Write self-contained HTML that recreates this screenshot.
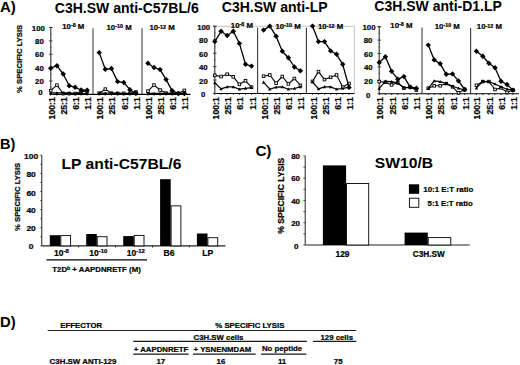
<!DOCTYPE html>
<html><head><meta charset="utf-8"><style>
html,body{margin:0;padding:0;background:#fff;}
body{width:520px;height:365px;overflow:hidden;}
svg{display:block;font-family:"Liberation Sans", sans-serif;}
text{stroke:#000;stroke-width:0.22px;paint-order:stroke;}
text.big{stroke-width:0;stroke:none;}
</style></head><body>
<svg width="520" height="365" viewBox="0 0 520 365" font-family='"Liberation Sans", sans-serif'>
<rect width="520" height="365" fill="#fff"/>
<line x1="93.00" y1="28.30" x2="93.00" y2="94.40" stroke="#858585" stroke-width="1.7"/>
<line x1="142.00" y1="28.30" x2="142.00" y2="94.40" stroke="#858585" stroke-width="1.7"/>
<line x1="50.80" y1="94.40" x2="190.50" y2="94.40" stroke="#000" stroke-width="1.1"/>
<line x1="50.80" y1="27.50" x2="50.80" y2="94.40" stroke="#333" stroke-width="1.1"/>
<line x1="49.30" y1="27.50" x2="52.30" y2="27.50" stroke="#333" stroke-width="1.0"/>
<line x1="49.00" y1="94.40" x2="52.60" y2="94.40" stroke="#333" stroke-width="0.9"/>
<line x1="49.90" y1="87.71" x2="51.70" y2="87.71" stroke="#555" stroke-width="0.8"/>
<line x1="49.00" y1="81.02" x2="52.60" y2="81.02" stroke="#333" stroke-width="0.9"/>
<line x1="49.90" y1="74.33" x2="51.70" y2="74.33" stroke="#555" stroke-width="0.8"/>
<line x1="49.00" y1="67.64" x2="52.60" y2="67.64" stroke="#333" stroke-width="0.9"/>
<line x1="49.90" y1="60.95" x2="51.70" y2="60.95" stroke="#555" stroke-width="0.8"/>
<line x1="49.00" y1="54.26" x2="52.60" y2="54.26" stroke="#333" stroke-width="0.9"/>
<line x1="49.90" y1="47.57" x2="51.70" y2="47.57" stroke="#555" stroke-width="0.8"/>
<line x1="49.00" y1="40.88" x2="52.60" y2="40.88" stroke="#333" stroke-width="0.9"/>
<line x1="49.90" y1="34.19" x2="51.70" y2="34.19" stroke="#555" stroke-width="0.8"/>
<line x1="49.00" y1="27.50" x2="52.60" y2="27.50" stroke="#333" stroke-width="0.9"/>
<text x="38.35" y="30.90" font-size="7.8" text-anchor="middle" font-weight="bold" >100</text>
<text x="39.40" y="43.90" font-size="7.8" text-anchor="middle" font-weight="bold" >80</text>
<text x="39.40" y="57.25" font-size="7.8" text-anchor="middle" font-weight="bold" >60</text>
<text x="39.40" y="70.75" font-size="7.8" text-anchor="middle" font-weight="bold" >40</text>
<text x="39.40" y="83.60" font-size="7.8" text-anchor="middle" font-weight="bold" >20</text>
<text x="40.50" y="95.10" font-size="7.8" text-anchor="middle" font-weight="bold" >0</text>
<text x="62.20" y="28.60" font-size="7.8" font-weight="bold">10<tspan font-size="5.4" dy="-1.8">-8</tspan><tspan dy="1.8"> M</tspan></text>
<text x="106.50" y="29.50" font-size="7.8" font-weight="bold">10<tspan font-size="5.4" dy="-1.8">-10</tspan><tspan dy="1.8"> M</tspan></text>
<text x="149.50" y="30.30" font-size="7.8" font-weight="bold">10<tspan font-size="5.4" dy="-1.8">-12</tspan><tspan dy="1.8"> M</tspan></text>
<line x1="214.80" y1="26.30" x2="354.40" y2="26.30" stroke="#c4c4c4" stroke-width="1"/>
<line x1="354.40" y1="26.30" x2="354.40" y2="93.50" stroke="#c4c4c4" stroke-width="1"/>
<line x1="257.60" y1="27.70" x2="257.60" y2="93.50" stroke="#3a3a3a" stroke-width="1.1"/>
<line x1="306.40" y1="27.70" x2="306.40" y2="93.50" stroke="#3a3a3a" stroke-width="1.1"/>
<line x1="214.80" y1="93.50" x2="354.40" y2="93.50" stroke="#000" stroke-width="1.1"/>
<line x1="214.80" y1="26.30" x2="214.80" y2="93.50" stroke="#333" stroke-width="1.1"/>
<line x1="213.30" y1="26.30" x2="216.30" y2="26.30" stroke="#333" stroke-width="1.0"/>
<line x1="213.00" y1="93.50" x2="216.60" y2="93.50" stroke="#333" stroke-width="0.9"/>
<line x1="213.90" y1="86.78" x2="215.70" y2="86.78" stroke="#555" stroke-width="0.8"/>
<line x1="213.00" y1="80.06" x2="216.60" y2="80.06" stroke="#333" stroke-width="0.9"/>
<line x1="213.90" y1="73.34" x2="215.70" y2="73.34" stroke="#555" stroke-width="0.8"/>
<line x1="213.00" y1="66.62" x2="216.60" y2="66.62" stroke="#333" stroke-width="0.9"/>
<line x1="213.90" y1="59.90" x2="215.70" y2="59.90" stroke="#555" stroke-width="0.8"/>
<line x1="213.00" y1="53.18" x2="216.60" y2="53.18" stroke="#333" stroke-width="0.9"/>
<line x1="213.90" y1="46.46" x2="215.70" y2="46.46" stroke="#555" stroke-width="0.8"/>
<line x1="213.00" y1="39.74" x2="216.60" y2="39.74" stroke="#333" stroke-width="0.9"/>
<line x1="213.90" y1="33.02" x2="215.70" y2="33.02" stroke="#555" stroke-width="0.8"/>
<line x1="213.00" y1="26.30" x2="216.60" y2="26.30" stroke="#333" stroke-width="0.9"/>
<text x="203.65" y="29.85" font-size="7.8" text-anchor="middle" font-weight="bold" >100</text>
<text x="203.40" y="43.20" font-size="7.8" text-anchor="middle" font-weight="bold" >80</text>
<text x="203.45" y="56.90" font-size="7.8" text-anchor="middle" font-weight="bold" >60</text>
<text x="203.35" y="70.15" font-size="7.8" text-anchor="middle" font-weight="bold" >40</text>
<text x="203.45" y="83.95" font-size="7.8" text-anchor="middle" font-weight="bold" >20</text>
<text x="203.15" y="97.45" font-size="7.8" text-anchor="middle" font-weight="bold" >0</text>
<text x="230.80" y="27.70" font-size="7.8" font-weight="bold">10<tspan font-size="5.4" dy="-1.8">-8</tspan><tspan dy="1.8"> M</tspan></text>
<text x="275.50" y="28.50" font-size="7.8" font-weight="bold">10<tspan font-size="5.4" dy="-1.8">-10</tspan><tspan dy="1.8"> M</tspan></text>
<text x="318.00" y="29.40" font-size="7.8" font-weight="bold">10<tspan font-size="5.4" dy="-1.8">-12</tspan><tspan dy="1.8"> M</tspan></text>
<line x1="422.00" y1="27.50" x2="422.00" y2="93.70" stroke="#858585" stroke-width="1.7"/>
<line x1="470.60" y1="28.10" x2="470.60" y2="93.70" stroke="#3a3a3a" stroke-width="1.1"/>
<line x1="379.20" y1="93.70" x2="519.00" y2="93.70" stroke="#000" stroke-width="1.1"/>
<line x1="379.20" y1="26.70" x2="379.20" y2="93.70" stroke="#333" stroke-width="1.1"/>
<line x1="377.70" y1="26.70" x2="380.70" y2="26.70" stroke="#333" stroke-width="1.0"/>
<line x1="377.40" y1="93.70" x2="381.00" y2="93.70" stroke="#333" stroke-width="0.9"/>
<line x1="378.30" y1="87.00" x2="380.10" y2="87.00" stroke="#555" stroke-width="0.8"/>
<line x1="377.40" y1="80.30" x2="381.00" y2="80.30" stroke="#333" stroke-width="0.9"/>
<line x1="378.30" y1="73.60" x2="380.10" y2="73.60" stroke="#555" stroke-width="0.8"/>
<line x1="377.40" y1="66.90" x2="381.00" y2="66.90" stroke="#333" stroke-width="0.9"/>
<line x1="378.30" y1="60.20" x2="380.10" y2="60.20" stroke="#555" stroke-width="0.8"/>
<line x1="377.40" y1="53.50" x2="381.00" y2="53.50" stroke="#333" stroke-width="0.9"/>
<line x1="378.30" y1="46.80" x2="380.10" y2="46.80" stroke="#555" stroke-width="0.8"/>
<line x1="377.40" y1="40.10" x2="381.00" y2="40.10" stroke="#333" stroke-width="0.9"/>
<line x1="378.30" y1="33.40" x2="380.10" y2="33.40" stroke="#555" stroke-width="0.8"/>
<line x1="377.40" y1="26.70" x2="381.00" y2="26.70" stroke="#333" stroke-width="0.9"/>
<text x="369.00" y="29.95" font-size="7.8" text-anchor="middle" font-weight="bold" >100</text>
<text x="368.10" y="42.65" font-size="7.8" text-anchor="middle" font-weight="bold" >80</text>
<text x="368.40" y="56.90" font-size="7.8" text-anchor="middle" font-weight="bold" >60</text>
<text x="368.30" y="70.15" font-size="7.8" text-anchor="middle" font-weight="bold" >40</text>
<text x="368.40" y="84.15" font-size="7.8" text-anchor="middle" font-weight="bold" >20</text>
<text x="368.20" y="97.55" font-size="7.8" text-anchor="middle" font-weight="bold" >0</text>
<text x="390.30" y="27.80" font-size="7.8" font-weight="bold">10<tspan font-size="5.4" dy="-1.8">-8</tspan><tspan dy="1.8"> M</tspan></text>
<text x="434.70" y="28.50" font-size="7.8" font-weight="bold">10<tspan font-size="5.4" dy="-1.8">-10</tspan><tspan dy="1.8"> M</tspan></text>
<text x="476.80" y="29.40" font-size="7.8" font-weight="bold">10<tspan font-size="5.4" dy="-1.8">-12</tspan><tspan dy="1.8"> M</tspan></text>
<line x1="50.70" y1="94.40" x2="50.70" y2="95.70" stroke="#000" stroke-width="0.8"/>
<line x1="56.90" y1="94.40" x2="56.90" y2="95.70" stroke="#000" stroke-width="0.8"/>
<line x1="63.20" y1="94.40" x2="63.20" y2="95.70" stroke="#000" stroke-width="0.8"/>
<line x1="69.20" y1="94.40" x2="69.20" y2="95.70" stroke="#000" stroke-width="0.8"/>
<line x1="75.10" y1="94.40" x2="75.10" y2="95.70" stroke="#000" stroke-width="0.8"/>
<line x1="81.20" y1="94.40" x2="81.20" y2="95.70" stroke="#000" stroke-width="0.8"/>
<line x1="87.20" y1="94.40" x2="87.20" y2="95.70" stroke="#000" stroke-width="0.8"/>
<polyline points="50.70,90.70 56.90,85.20 63.20,93.50 69.20,93.50 75.10,93.50 81.20,91.50 87.20,91.50" fill="none" stroke="#000" stroke-width="1.1" stroke-linejoin="round"/>
<rect x="49.40" y="89.40" width="2.60" height="2.60" fill="#fff" stroke="#000" stroke-width="0.9"/>
<rect x="55.60" y="83.90" width="2.60" height="2.60" fill="#fff" stroke="#000" stroke-width="0.9"/>
<rect x="61.90" y="92.20" width="2.60" height="2.60" fill="#fff" stroke="#000" stroke-width="0.9"/>
<rect x="67.90" y="92.20" width="2.60" height="2.60" fill="#fff" stroke="#000" stroke-width="0.9"/>
<rect x="73.80" y="92.20" width="2.60" height="2.60" fill="#fff" stroke="#000" stroke-width="0.9"/>
<rect x="79.90" y="90.20" width="2.60" height="2.60" fill="#fff" stroke="#000" stroke-width="0.9"/>
<rect x="85.90" y="90.20" width="2.60" height="2.60" fill="#fff" stroke="#000" stroke-width="0.9"/>
<polyline points="50.70,92.90 56.90,92.90 63.20,92.90 69.20,92.90 75.10,93.60 81.20,93.60 87.20,93.60" fill="none" stroke="#000" stroke-width="1.2" stroke-linejoin="round"/>
<path d="M50.70 91.20L52.40 94.26L49.00 94.26Z" fill="#000"/>
<path d="M56.90 91.20L58.60 94.26L55.20 94.26Z" fill="#000"/>
<path d="M63.20 91.20L64.90 94.26L61.50 94.26Z" fill="#000"/>
<path d="M69.20 91.20L70.90 94.26L67.50 94.26Z" fill="#000"/>
<path d="M75.10 91.90L76.80 94.96L73.40 94.96Z" fill="#000"/>
<path d="M81.20 91.90L82.90 94.96L79.50 94.96Z" fill="#000"/>
<path d="M87.20 91.90L88.90 94.96L85.50 94.96Z" fill="#000"/>
<polyline points="50.70,68.20 56.90,65.70 63.20,74.00 69.20,85.70 75.10,87.30 81.20,90.00 87.20,90.30" fill="none" stroke="#000" stroke-width="1.3" stroke-linejoin="round"/>
<path d="M50.70 65.50L53.40 68.20L50.70 70.90L48.00 68.20Z" fill="#000"/>
<path d="M56.90 63.00L59.60 65.70L56.90 68.40L54.20 65.70Z" fill="#000"/>
<path d="M63.20 71.30L65.90 74.00L63.20 76.70L60.50 74.00Z" fill="#000"/>
<path d="M69.20 83.00L71.90 85.70L69.20 88.40L66.50 85.70Z" fill="#000"/>
<path d="M75.10 84.60L77.80 87.30L75.10 90.00L72.40 87.30Z" fill="#000"/>
<path d="M81.20 87.30L83.90 90.00L81.20 92.70L78.50 90.00Z" fill="#000"/>
<path d="M87.20 87.60L89.90 90.30L87.20 93.00L84.50 90.30Z" fill="#000"/>
<text transform="translate(54.70,97.10) rotate(-90)" font-size="8.75" text-anchor="end" font-weight="bold">100:1</text>
<text transform="translate(67.20,97.10) rotate(-90)" font-size="8.75" text-anchor="end" font-weight="bold">25:1</text>
<text transform="translate(79.10,97.10) rotate(-90)" font-size="8.75" text-anchor="end" font-weight="bold">6:1</text>
<text transform="translate(91.20,97.10) rotate(-90)" font-size="8.75" text-anchor="end" font-weight="bold">1:1</text>
<line x1="99.20" y1="94.40" x2="99.20" y2="95.70" stroke="#000" stroke-width="0.8"/>
<line x1="105.30" y1="94.40" x2="105.30" y2="95.70" stroke="#000" stroke-width="0.8"/>
<line x1="111.40" y1="94.40" x2="111.40" y2="95.70" stroke="#000" stroke-width="0.8"/>
<line x1="117.60" y1="94.40" x2="117.60" y2="95.70" stroke="#000" stroke-width="0.8"/>
<line x1="123.80" y1="94.40" x2="123.80" y2="95.70" stroke="#000" stroke-width="0.8"/>
<line x1="129.90" y1="94.40" x2="129.90" y2="95.70" stroke="#000" stroke-width="0.8"/>
<line x1="135.90" y1="94.40" x2="135.90" y2="95.70" stroke="#000" stroke-width="0.8"/>
<polyline points="99.20,93.20 105.30,89.10 111.40,93.20 117.60,93.40 123.80,93.40 129.90,93.40 135.90,92.00" fill="none" stroke="#000" stroke-width="1.1" stroke-linejoin="round"/>
<rect x="97.90" y="91.90" width="2.60" height="2.60" fill="#fff" stroke="#000" stroke-width="0.9"/>
<rect x="104.00" y="87.80" width="2.60" height="2.60" fill="#fff" stroke="#000" stroke-width="0.9"/>
<rect x="110.10" y="91.90" width="2.60" height="2.60" fill="#fff" stroke="#000" stroke-width="0.9"/>
<rect x="116.30" y="92.10" width="2.60" height="2.60" fill="#fff" stroke="#000" stroke-width="0.9"/>
<rect x="122.50" y="92.10" width="2.60" height="2.60" fill="#fff" stroke="#000" stroke-width="0.9"/>
<rect x="128.60" y="92.10" width="2.60" height="2.60" fill="#fff" stroke="#000" stroke-width="0.9"/>
<rect x="134.60" y="90.70" width="2.60" height="2.60" fill="#fff" stroke="#000" stroke-width="0.9"/>
<polyline points="99.20,93.20 105.30,93.20 111.40,93.00 117.60,93.00 123.80,93.60 129.90,93.50 135.90,93.50" fill="none" stroke="#000" stroke-width="1.2" stroke-linejoin="round"/>
<path d="M99.20 91.50L100.90 94.56L97.50 94.56Z" fill="#000"/>
<path d="M105.30 91.50L107.00 94.56L103.60 94.56Z" fill="#000"/>
<path d="M111.40 91.30L113.10 94.36L109.70 94.36Z" fill="#000"/>
<path d="M117.60 91.30L119.30 94.36L115.90 94.36Z" fill="#000"/>
<path d="M123.80 91.90L125.50 94.96L122.10 94.96Z" fill="#000"/>
<path d="M129.90 91.80L131.60 94.86L128.20 94.86Z" fill="#000"/>
<path d="M135.90 91.80L137.60 94.86L134.20 94.86Z" fill="#000"/>
<polyline points="99.20,52.60 105.30,69.30 111.40,68.50 117.60,81.60 123.80,82.50 129.90,89.70 135.90,93.20" fill="none" stroke="#000" stroke-width="1.3" stroke-linejoin="round"/>
<path d="M99.20 49.90L101.90 52.60L99.20 55.30L96.50 52.60Z" fill="#000"/>
<path d="M105.30 66.60L108.00 69.30L105.30 72.00L102.60 69.30Z" fill="#000"/>
<path d="M111.40 65.80L114.10 68.50L111.40 71.20L108.70 68.50Z" fill="#000"/>
<path d="M117.60 78.90L120.30 81.60L117.60 84.30L114.90 81.60Z" fill="#000"/>
<path d="M123.80 79.80L126.50 82.50L123.80 85.20L121.10 82.50Z" fill="#000"/>
<path d="M129.90 87.00L132.60 89.70L129.90 92.40L127.20 89.70Z" fill="#000"/>
<path d="M135.90 90.50L138.60 93.20L135.90 95.90L133.20 93.20Z" fill="#000"/>
<text transform="translate(103.20,97.10) rotate(-90)" font-size="8.75" text-anchor="end" font-weight="bold">100:1</text>
<text transform="translate(115.40,97.10) rotate(-90)" font-size="8.75" text-anchor="end" font-weight="bold">25:1</text>
<text transform="translate(127.80,97.10) rotate(-90)" font-size="8.75" text-anchor="end" font-weight="bold">6:1</text>
<text transform="translate(139.90,97.10) rotate(-90)" font-size="8.75" text-anchor="end" font-weight="bold">1:1</text>
<line x1="147.90" y1="94.40" x2="147.90" y2="95.70" stroke="#000" stroke-width="0.8"/>
<line x1="154.00" y1="94.40" x2="154.00" y2="95.70" stroke="#000" stroke-width="0.8"/>
<line x1="160.10" y1="94.40" x2="160.10" y2="95.70" stroke="#000" stroke-width="0.8"/>
<line x1="166.10" y1="94.40" x2="166.10" y2="95.70" stroke="#000" stroke-width="0.8"/>
<line x1="172.10" y1="94.40" x2="172.10" y2="95.70" stroke="#000" stroke-width="0.8"/>
<line x1="178.30" y1="94.40" x2="178.30" y2="95.70" stroke="#000" stroke-width="0.8"/>
<line x1="184.40" y1="94.40" x2="184.40" y2="95.70" stroke="#000" stroke-width="0.8"/>
<polyline points="147.90,91.20 154.00,85.10 160.10,90.00 166.10,93.10 172.10,93.30 178.30,93.30 184.40,90.40" fill="none" stroke="#000" stroke-width="1.1" stroke-linejoin="round"/>
<rect x="146.60" y="89.90" width="2.60" height="2.60" fill="#fff" stroke="#000" stroke-width="0.9"/>
<rect x="152.70" y="83.80" width="2.60" height="2.60" fill="#fff" stroke="#000" stroke-width="0.9"/>
<rect x="158.80" y="88.70" width="2.60" height="2.60" fill="#fff" stroke="#000" stroke-width="0.9"/>
<rect x="164.80" y="91.80" width="2.60" height="2.60" fill="#fff" stroke="#000" stroke-width="0.9"/>
<rect x="170.80" y="92.00" width="2.60" height="2.60" fill="#fff" stroke="#000" stroke-width="0.9"/>
<rect x="177.00" y="92.00" width="2.60" height="2.60" fill="#fff" stroke="#000" stroke-width="0.9"/>
<rect x="183.10" y="89.10" width="2.60" height="2.60" fill="#fff" stroke="#000" stroke-width="0.9"/>
<polyline points="147.90,93.40 154.00,93.40 160.10,93.40 166.10,93.40 172.10,93.40 178.30,93.40 184.40,93.40" fill="none" stroke="#000" stroke-width="1.2" stroke-linejoin="round"/>
<path d="M147.90 91.70L149.60 94.76L146.20 94.76Z" fill="#000"/>
<path d="M154.00 91.70L155.70 94.76L152.30 94.76Z" fill="#000"/>
<path d="M160.10 91.70L161.80 94.76L158.40 94.76Z" fill="#000"/>
<path d="M166.10 91.70L167.80 94.76L164.40 94.76Z" fill="#000"/>
<path d="M172.10 91.70L173.80 94.76L170.40 94.76Z" fill="#000"/>
<path d="M178.30 91.70L180.00 94.76L176.60 94.76Z" fill="#000"/>
<path d="M184.40 91.70L186.10 94.76L182.70 94.76Z" fill="#000"/>
<polyline points="147.90,63.20 154.00,67.50 160.10,69.60 166.10,79.60 172.10,90.60 178.30,93.60 184.40,93.50" fill="none" stroke="#000" stroke-width="1.3" stroke-linejoin="round"/>
<path d="M147.90 60.50L150.60 63.20L147.90 65.90L145.20 63.20Z" fill="#000"/>
<path d="M154.00 64.80L156.70 67.50L154.00 70.20L151.30 67.50Z" fill="#000"/>
<path d="M160.10 66.90L162.80 69.60L160.10 72.30L157.40 69.60Z" fill="#000"/>
<path d="M166.10 76.90L168.80 79.60L166.10 82.30L163.40 79.60Z" fill="#000"/>
<path d="M172.10 87.90L174.80 90.60L172.10 93.30L169.40 90.60Z" fill="#000"/>
<path d="M178.30 90.90L181.00 93.60L178.30 96.30L175.60 93.60Z" fill="#000"/>
<path d="M184.40 90.80L187.10 93.50L184.40 96.20L181.70 93.50Z" fill="#000"/>
<text transform="translate(151.90,97.10) rotate(-90)" font-size="8.75" text-anchor="end" font-weight="bold">100:1</text>
<text transform="translate(164.10,97.10) rotate(-90)" font-size="8.75" text-anchor="end" font-weight="bold">25:1</text>
<text transform="translate(176.10,97.10) rotate(-90)" font-size="8.75" text-anchor="end" font-weight="bold">6:1</text>
<text transform="translate(188.40,97.10) rotate(-90)" font-size="8.75" text-anchor="end" font-weight="bold">1:1</text>
<line x1="214.80" y1="93.50" x2="214.80" y2="94.80" stroke="#000" stroke-width="0.8"/>
<line x1="221.10" y1="93.50" x2="221.10" y2="94.80" stroke="#000" stroke-width="0.8"/>
<line x1="227.20" y1="93.50" x2="227.20" y2="94.80" stroke="#000" stroke-width="0.8"/>
<line x1="233.30" y1="93.50" x2="233.30" y2="94.80" stroke="#000" stroke-width="0.8"/>
<line x1="239.40" y1="93.50" x2="239.40" y2="94.80" stroke="#000" stroke-width="0.8"/>
<line x1="245.50" y1="93.50" x2="245.50" y2="94.80" stroke="#000" stroke-width="0.8"/>
<line x1="251.50" y1="93.50" x2="251.50" y2="94.80" stroke="#000" stroke-width="0.8"/>
<polyline points="214.80,75.40 221.10,76.50 227.20,74.20 233.30,76.80 239.40,84.30 245.50,80.80 251.50,87.10" fill="none" stroke="#000" stroke-width="1.1" stroke-linejoin="round"/>
<rect x="213.50" y="74.10" width="2.60" height="2.60" fill="#fff" stroke="#000" stroke-width="0.9"/>
<rect x="219.80" y="75.20" width="2.60" height="2.60" fill="#fff" stroke="#000" stroke-width="0.9"/>
<rect x="225.90" y="72.90" width="2.60" height="2.60" fill="#fff" stroke="#000" stroke-width="0.9"/>
<rect x="232.00" y="75.50" width="2.60" height="2.60" fill="#fff" stroke="#000" stroke-width="0.9"/>
<rect x="238.10" y="83.00" width="2.60" height="2.60" fill="#fff" stroke="#000" stroke-width="0.9"/>
<rect x="244.20" y="79.50" width="2.60" height="2.60" fill="#fff" stroke="#000" stroke-width="0.9"/>
<rect x="250.20" y="85.80" width="2.60" height="2.60" fill="#fff" stroke="#000" stroke-width="0.9"/>
<polyline points="214.80,82.80 221.10,88.90 227.20,86.90 233.30,86.90 239.40,89.20 245.50,88.30 251.50,87.70" fill="none" stroke="#000" stroke-width="1.2" stroke-linejoin="round"/>
<path d="M214.80 81.10L216.50 84.16L213.10 84.16Z" fill="#000"/>
<path d="M221.10 87.20L222.80 90.26L219.40 90.26Z" fill="#000"/>
<path d="M227.20 85.20L228.90 88.26L225.50 88.26Z" fill="#000"/>
<path d="M233.30 85.20L235.00 88.26L231.60 88.26Z" fill="#000"/>
<path d="M239.40 87.50L241.10 90.56L237.70 90.56Z" fill="#000"/>
<path d="M245.50 86.60L247.20 89.66L243.80 89.66Z" fill="#000"/>
<path d="M251.50 86.00L253.20 89.06L249.80 89.06Z" fill="#000"/>
<polyline points="214.80,41.60 221.10,31.30 227.20,35.50 233.30,31.30 239.40,43.40 245.50,64.30 251.50,66.10" fill="none" stroke="#000" stroke-width="1.3" stroke-linejoin="round"/>
<path d="M214.80 38.90L217.50 41.60L214.80 44.30L212.10 41.60Z" fill="#000"/>
<path d="M221.10 28.60L223.80 31.30L221.10 34.00L218.40 31.30Z" fill="#000"/>
<path d="M227.20 32.80L229.90 35.50L227.20 38.20L224.50 35.50Z" fill="#000"/>
<path d="M233.30 28.60L236.00 31.30L233.30 34.00L230.60 31.30Z" fill="#000"/>
<path d="M239.40 40.70L242.10 43.40L239.40 46.10L236.70 43.40Z" fill="#000"/>
<path d="M245.50 61.60L248.20 64.30L245.50 67.00L242.80 64.30Z" fill="#000"/>
<path d="M251.50 63.40L254.20 66.10L251.50 68.80L248.80 66.10Z" fill="#000"/>
<text transform="translate(218.80,97.10) rotate(-90)" font-size="8.75" text-anchor="end" font-weight="bold">100:1</text>
<text transform="translate(231.20,97.10) rotate(-90)" font-size="8.75" text-anchor="end" font-weight="bold">25:1</text>
<text transform="translate(243.40,97.10) rotate(-90)" font-size="8.75" text-anchor="end" font-weight="bold">6:1</text>
<text transform="translate(255.50,97.10) rotate(-90)" font-size="8.75" text-anchor="end" font-weight="bold">1:1</text>
<line x1="263.60" y1="93.50" x2="263.60" y2="94.80" stroke="#000" stroke-width="0.8"/>
<line x1="269.80" y1="93.50" x2="269.80" y2="94.80" stroke="#000" stroke-width="0.8"/>
<line x1="276.10" y1="93.50" x2="276.10" y2="94.80" stroke="#000" stroke-width="0.8"/>
<line x1="282.30" y1="93.50" x2="282.30" y2="94.80" stroke="#000" stroke-width="0.8"/>
<line x1="288.40" y1="93.50" x2="288.40" y2="94.80" stroke="#000" stroke-width="0.8"/>
<line x1="294.40" y1="93.50" x2="294.40" y2="94.80" stroke="#000" stroke-width="0.8"/>
<line x1="300.40" y1="93.50" x2="300.40" y2="94.80" stroke="#000" stroke-width="0.8"/>
<polyline points="263.60,76.20 269.80,75.00 276.10,83.10 282.30,76.50 288.40,83.90 294.40,78.50 300.40,85.40" fill="none" stroke="#000" stroke-width="1.1" stroke-linejoin="round"/>
<rect x="262.30" y="74.90" width="2.60" height="2.60" fill="#fff" stroke="#000" stroke-width="0.9"/>
<rect x="268.50" y="73.70" width="2.60" height="2.60" fill="#fff" stroke="#000" stroke-width="0.9"/>
<rect x="274.80" y="81.80" width="2.60" height="2.60" fill="#fff" stroke="#000" stroke-width="0.9"/>
<rect x="281.00" y="75.20" width="2.60" height="2.60" fill="#fff" stroke="#000" stroke-width="0.9"/>
<rect x="287.10" y="82.60" width="2.60" height="2.60" fill="#fff" stroke="#000" stroke-width="0.9"/>
<rect x="293.10" y="77.20" width="2.60" height="2.60" fill="#fff" stroke="#000" stroke-width="0.9"/>
<rect x="299.10" y="84.10" width="2.60" height="2.60" fill="#fff" stroke="#000" stroke-width="0.9"/>
<polyline points="263.60,82.30 269.80,89.20 276.10,87.10 282.30,86.90 288.40,89.20 294.40,88.50 300.40,86.90" fill="none" stroke="#000" stroke-width="1.2" stroke-linejoin="round"/>
<path d="M263.60 80.60L265.30 83.66L261.90 83.66Z" fill="#000"/>
<path d="M269.80 87.50L271.50 90.56L268.10 90.56Z" fill="#000"/>
<path d="M276.10 85.40L277.80 88.46L274.40 88.46Z" fill="#000"/>
<path d="M282.30 85.20L284.00 88.26L280.60 88.26Z" fill="#000"/>
<path d="M288.40 87.50L290.10 90.56L286.70 90.56Z" fill="#000"/>
<path d="M294.40 86.80L296.10 89.86L292.70 89.86Z" fill="#000"/>
<path d="M300.40 85.20L302.10 88.26L298.70 88.26Z" fill="#000"/>
<polyline points="263.60,30.10 269.80,26.10 276.10,36.20 282.30,51.20 288.40,57.80 294.40,67.00 300.40,70.80" fill="none" stroke="#000" stroke-width="1.3" stroke-linejoin="round"/>
<path d="M263.60 27.40L266.30 30.10L263.60 32.80L260.90 30.10Z" fill="#000"/>
<path d="M269.80 23.40L272.50 26.10L269.80 28.80L267.10 26.10Z" fill="#000"/>
<path d="M276.10 33.50L278.80 36.20L276.10 38.90L273.40 36.20Z" fill="#000"/>
<path d="M282.30 48.50L285.00 51.20L282.30 53.90L279.60 51.20Z" fill="#000"/>
<path d="M288.40 55.10L291.10 57.80L288.40 60.50L285.70 57.80Z" fill="#000"/>
<path d="M294.40 64.30L297.10 67.00L294.40 69.70L291.70 67.00Z" fill="#000"/>
<path d="M300.40 68.10L303.10 70.80L300.40 73.50L297.70 70.80Z" fill="#000"/>
<text transform="translate(267.60,97.10) rotate(-90)" font-size="8.75" text-anchor="end" font-weight="bold">100:1</text>
<text transform="translate(280.10,97.10) rotate(-90)" font-size="8.75" text-anchor="end" font-weight="bold">25:1</text>
<text transform="translate(292.40,97.10) rotate(-90)" font-size="8.75" text-anchor="end" font-weight="bold">6:1</text>
<text transform="translate(304.40,97.10) rotate(-90)" font-size="8.75" text-anchor="end" font-weight="bold">1:1</text>
<line x1="312.50" y1="93.50" x2="312.50" y2="94.80" stroke="#000" stroke-width="0.8"/>
<line x1="318.50" y1="93.50" x2="318.50" y2="94.80" stroke="#000" stroke-width="0.8"/>
<line x1="324.50" y1="93.50" x2="324.50" y2="94.80" stroke="#000" stroke-width="0.8"/>
<line x1="330.60" y1="93.50" x2="330.60" y2="94.80" stroke="#000" stroke-width="0.8"/>
<line x1="336.60" y1="93.50" x2="336.60" y2="94.80" stroke="#000" stroke-width="0.8"/>
<line x1="342.70" y1="93.50" x2="342.70" y2="94.80" stroke="#000" stroke-width="0.8"/>
<line x1="349.00" y1="93.50" x2="349.00" y2="94.80" stroke="#000" stroke-width="0.8"/>
<polyline points="312.50,81.40 318.50,71.60 324.50,79.60 330.60,77.30 336.60,75.00 342.70,87.10 349.00,83.50" fill="none" stroke="#000" stroke-width="1.1" stroke-linejoin="round"/>
<rect x="311.20" y="80.10" width="2.60" height="2.60" fill="#fff" stroke="#000" stroke-width="0.9"/>
<rect x="317.20" y="70.30" width="2.60" height="2.60" fill="#fff" stroke="#000" stroke-width="0.9"/>
<rect x="323.20" y="78.30" width="2.60" height="2.60" fill="#fff" stroke="#000" stroke-width="0.9"/>
<rect x="329.30" y="76.00" width="2.60" height="2.60" fill="#fff" stroke="#000" stroke-width="0.9"/>
<rect x="335.30" y="73.70" width="2.60" height="2.60" fill="#fff" stroke="#000" stroke-width="0.9"/>
<rect x="341.40" y="85.80" width="2.60" height="2.60" fill="#fff" stroke="#000" stroke-width="0.9"/>
<rect x="347.70" y="82.20" width="2.60" height="2.60" fill="#fff" stroke="#000" stroke-width="0.9"/>
<polyline points="312.50,82.00 318.50,88.90 324.50,86.90 330.60,86.90 336.60,89.20 342.70,88.50 349.00,87.10" fill="none" stroke="#000" stroke-width="1.2" stroke-linejoin="round"/>
<path d="M312.50 80.30L314.20 83.36L310.80 83.36Z" fill="#000"/>
<path d="M318.50 87.20L320.20 90.26L316.80 90.26Z" fill="#000"/>
<path d="M324.50 85.20L326.20 88.26L322.80 88.26Z" fill="#000"/>
<path d="M330.60 85.20L332.30 88.26L328.90 88.26Z" fill="#000"/>
<path d="M336.60 87.50L338.30 90.56L334.90 90.56Z" fill="#000"/>
<path d="M342.70 86.80L344.40 89.86L341.00 89.86Z" fill="#000"/>
<path d="M349.00 85.40L350.70 88.46L347.30 88.46Z" fill="#000"/>
<polyline points="312.50,26.10 318.50,41.60 324.50,41.60 330.60,50.90 336.60,54.30 342.70,64.30 349.00,87.40" fill="none" stroke="#000" stroke-width="1.3" stroke-linejoin="round"/>
<path d="M312.50 23.40L315.20 26.10L312.50 28.80L309.80 26.10Z" fill="#000"/>
<path d="M318.50 38.90L321.20 41.60L318.50 44.30L315.80 41.60Z" fill="#000"/>
<path d="M324.50 38.90L327.20 41.60L324.50 44.30L321.80 41.60Z" fill="#000"/>
<path d="M330.60 48.20L333.30 50.90L330.60 53.60L327.90 50.90Z" fill="#000"/>
<path d="M336.60 51.60L339.30 54.30L336.60 57.00L333.90 54.30Z" fill="#000"/>
<path d="M342.70 61.60L345.40 64.30L342.70 67.00L340.00 64.30Z" fill="#000"/>
<path d="M349.00 84.70L351.70 87.40L349.00 90.10L346.30 87.40Z" fill="#000"/>
<text transform="translate(316.50,97.10) rotate(-90)" font-size="8.75" text-anchor="end" font-weight="bold">100:1</text>
<text transform="translate(328.50,97.10) rotate(-90)" font-size="8.75" text-anchor="end" font-weight="bold">25:1</text>
<text transform="translate(340.60,97.10) rotate(-90)" font-size="8.75" text-anchor="end" font-weight="bold">6:1</text>
<text transform="translate(353.00,97.10) rotate(-90)" font-size="8.75" text-anchor="end" font-weight="bold">1:1</text>
<line x1="379.20" y1="93.70" x2="379.20" y2="95.00" stroke="#000" stroke-width="0.8"/>
<line x1="385.40" y1="93.70" x2="385.40" y2="95.00" stroke="#000" stroke-width="0.8"/>
<line x1="391.60" y1="93.70" x2="391.60" y2="95.00" stroke="#000" stroke-width="0.8"/>
<line x1="397.80" y1="93.70" x2="397.80" y2="95.00" stroke="#000" stroke-width="0.8"/>
<line x1="403.90" y1="93.70" x2="403.90" y2="95.00" stroke="#000" stroke-width="0.8"/>
<line x1="410.20" y1="93.70" x2="410.20" y2="95.00" stroke="#000" stroke-width="0.8"/>
<line x1="416.40" y1="93.70" x2="416.40" y2="95.00" stroke="#000" stroke-width="0.8"/>
<polyline points="379.20,81.60 385.40,82.20 391.60,84.90 397.80,82.60 403.90,88.20 410.20,87.20 416.40,90.10" fill="none" stroke="#000" stroke-width="1.1" stroke-linejoin="round"/>
<rect x="377.90" y="80.30" width="2.60" height="2.60" fill="#fff" stroke="#000" stroke-width="0.9"/>
<rect x="384.10" y="80.90" width="2.60" height="2.60" fill="#fff" stroke="#000" stroke-width="0.9"/>
<rect x="390.30" y="83.60" width="2.60" height="2.60" fill="#fff" stroke="#000" stroke-width="0.9"/>
<rect x="396.50" y="81.30" width="2.60" height="2.60" fill="#fff" stroke="#000" stroke-width="0.9"/>
<rect x="402.60" y="86.90" width="2.60" height="2.60" fill="#fff" stroke="#000" stroke-width="0.9"/>
<rect x="408.90" y="85.90" width="2.60" height="2.60" fill="#fff" stroke="#000" stroke-width="0.9"/>
<rect x="415.10" y="88.80" width="2.60" height="2.60" fill="#fff" stroke="#000" stroke-width="0.9"/>
<polyline points="379.20,88.40 385.40,81.30 391.60,81.60 397.80,83.20 403.90,87.50 410.20,87.50 416.40,88.80" fill="none" stroke="#000" stroke-width="1.2" stroke-linejoin="round"/>
<path d="M379.20 86.70L380.90 89.76L377.50 89.76Z" fill="#000"/>
<path d="M385.40 79.60L387.10 82.66L383.70 82.66Z" fill="#000"/>
<path d="M391.60 79.90L393.30 82.96L389.90 82.96Z" fill="#000"/>
<path d="M397.80 81.50L399.50 84.56L396.10 84.56Z" fill="#000"/>
<path d="M403.90 85.80L405.60 88.86L402.20 88.86Z" fill="#000"/>
<path d="M410.20 85.80L411.90 88.86L408.50 88.86Z" fill="#000"/>
<path d="M416.40 87.10L418.10 90.16L414.70 90.16Z" fill="#000"/>
<polyline points="379.20,62.50 385.40,56.80 391.60,71.30 397.80,79.20 403.90,76.60 410.20,87.10 416.40,88.20" fill="none" stroke="#000" stroke-width="1.3" stroke-linejoin="round"/>
<path d="M379.20 59.80L381.90 62.50L379.20 65.20L376.50 62.50Z" fill="#000"/>
<path d="M385.40 54.10L388.10 56.80L385.40 59.50L382.70 56.80Z" fill="#000"/>
<path d="M391.60 68.60L394.30 71.30L391.60 74.00L388.90 71.30Z" fill="#000"/>
<path d="M397.80 76.50L400.50 79.20L397.80 81.90L395.10 79.20Z" fill="#000"/>
<path d="M403.90 73.90L406.60 76.60L403.90 79.30L401.20 76.60Z" fill="#000"/>
<path d="M410.20 84.40L412.90 87.10L410.20 89.80L407.50 87.10Z" fill="#000"/>
<path d="M416.40 85.50L419.10 88.20L416.40 90.90L413.70 88.20Z" fill="#000"/>
<text transform="translate(383.20,97.10) rotate(-90)" font-size="8.75" text-anchor="end" font-weight="bold">100:1</text>
<text transform="translate(395.60,97.10) rotate(-90)" font-size="8.75" text-anchor="end" font-weight="bold">25:1</text>
<text transform="translate(407.90,97.10) rotate(-90)" font-size="8.75" text-anchor="end" font-weight="bold">6:1</text>
<text transform="translate(420.40,97.10) rotate(-90)" font-size="8.75" text-anchor="end" font-weight="bold">1:1</text>
<line x1="428.30" y1="93.70" x2="428.30" y2="95.00" stroke="#000" stroke-width="0.8"/>
<line x1="434.20" y1="93.70" x2="434.20" y2="95.00" stroke="#000" stroke-width="0.8"/>
<line x1="440.20" y1="93.70" x2="440.20" y2="95.00" stroke="#000" stroke-width="0.8"/>
<line x1="446.30" y1="93.70" x2="446.30" y2="95.00" stroke="#000" stroke-width="0.8"/>
<line x1="452.50" y1="93.70" x2="452.50" y2="95.00" stroke="#000" stroke-width="0.8"/>
<line x1="458.50" y1="93.70" x2="458.50" y2="95.00" stroke="#000" stroke-width="0.8"/>
<line x1="464.70" y1="93.70" x2="464.70" y2="95.00" stroke="#000" stroke-width="0.8"/>
<polyline points="428.30,88.20 434.20,85.80 440.20,85.80 446.30,83.60 452.50,86.80 458.50,92.80 464.70,89.50" fill="none" stroke="#000" stroke-width="1.1" stroke-linejoin="round"/>
<rect x="427.00" y="86.90" width="2.60" height="2.60" fill="#fff" stroke="#000" stroke-width="0.9"/>
<rect x="432.90" y="84.50" width="2.60" height="2.60" fill="#fff" stroke="#000" stroke-width="0.9"/>
<rect x="438.90" y="84.50" width="2.60" height="2.60" fill="#fff" stroke="#000" stroke-width="0.9"/>
<rect x="445.00" y="82.30" width="2.60" height="2.60" fill="#fff" stroke="#000" stroke-width="0.9"/>
<rect x="451.20" y="85.50" width="2.60" height="2.60" fill="#fff" stroke="#000" stroke-width="0.9"/>
<rect x="457.20" y="91.50" width="2.60" height="2.60" fill="#fff" stroke="#000" stroke-width="0.9"/>
<rect x="463.40" y="88.20" width="2.60" height="2.60" fill="#fff" stroke="#000" stroke-width="0.9"/>
<polyline points="428.30,88.40 434.20,80.90 440.20,81.60 446.30,83.60 452.50,86.20 458.50,88.20 464.70,90.10" fill="none" stroke="#000" stroke-width="1.2" stroke-linejoin="round"/>
<path d="M428.30 86.70L430.00 89.76L426.60 89.76Z" fill="#000"/>
<path d="M434.20 79.20L435.90 82.26L432.50 82.26Z" fill="#000"/>
<path d="M440.20 79.90L441.90 82.96L438.50 82.96Z" fill="#000"/>
<path d="M446.30 81.90L448.00 84.96L444.60 84.96Z" fill="#000"/>
<path d="M452.50 84.50L454.20 87.56L450.80 87.56Z" fill="#000"/>
<path d="M458.50 86.50L460.20 89.56L456.80 89.56Z" fill="#000"/>
<path d="M464.70 88.40L466.40 91.46L463.00 91.46Z" fill="#000"/>
<polyline points="428.30,45.10 434.20,59.90 440.20,63.80 446.30,74.30 452.50,73.90 458.50,80.90 464.70,89.50" fill="none" stroke="#000" stroke-width="1.3" stroke-linejoin="round"/>
<path d="M428.30 42.40L431.00 45.10L428.30 47.80L425.60 45.10Z" fill="#000"/>
<path d="M434.20 57.20L436.90 59.90L434.20 62.60L431.50 59.90Z" fill="#000"/>
<path d="M440.20 61.10L442.90 63.80L440.20 66.50L437.50 63.80Z" fill="#000"/>
<path d="M446.30 71.60L449.00 74.30L446.30 77.00L443.60 74.30Z" fill="#000"/>
<path d="M452.50 71.20L455.20 73.90L452.50 76.60L449.80 73.90Z" fill="#000"/>
<path d="M458.50 78.20L461.20 80.90L458.50 83.60L455.80 80.90Z" fill="#000"/>
<path d="M464.70 86.80L467.40 89.50L464.70 92.20L462.00 89.50Z" fill="#000"/>
<text transform="translate(432.30,97.10) rotate(-90)" font-size="8.75" text-anchor="end" font-weight="bold">100:1</text>
<text transform="translate(444.20,97.10) rotate(-90)" font-size="8.75" text-anchor="end" font-weight="bold">25:1</text>
<text transform="translate(456.50,97.10) rotate(-90)" font-size="8.75" text-anchor="end" font-weight="bold">6:1</text>
<text transform="translate(468.70,97.10) rotate(-90)" font-size="8.75" text-anchor="end" font-weight="bold">1:1</text>
<line x1="476.40" y1="93.70" x2="476.40" y2="95.00" stroke="#000" stroke-width="0.8"/>
<line x1="482.80" y1="93.70" x2="482.80" y2="95.00" stroke="#000" stroke-width="0.8"/>
<line x1="488.90" y1="93.70" x2="488.90" y2="95.00" stroke="#000" stroke-width="0.8"/>
<line x1="495.00" y1="93.70" x2="495.00" y2="95.00" stroke="#000" stroke-width="0.8"/>
<line x1="501.00" y1="93.70" x2="501.00" y2="95.00" stroke="#000" stroke-width="0.8"/>
<line x1="507.00" y1="93.70" x2="507.00" y2="95.00" stroke="#000" stroke-width="0.8"/>
<line x1="512.90" y1="93.70" x2="512.90" y2="95.00" stroke="#000" stroke-width="0.8"/>
<polyline points="476.40,85.30 482.80,81.60 488.90,81.60 495.00,89.50 501.00,87.90 507.00,92.40 512.90,90.10" fill="none" stroke="#000" stroke-width="1.1" stroke-linejoin="round"/>
<rect x="475.10" y="84.00" width="2.60" height="2.60" fill="#fff" stroke="#000" stroke-width="0.9"/>
<rect x="481.50" y="80.30" width="2.60" height="2.60" fill="#fff" stroke="#000" stroke-width="0.9"/>
<rect x="487.60" y="80.30" width="2.60" height="2.60" fill="#fff" stroke="#000" stroke-width="0.9"/>
<rect x="493.70" y="88.20" width="2.60" height="2.60" fill="#fff" stroke="#000" stroke-width="0.9"/>
<rect x="499.70" y="86.60" width="2.60" height="2.60" fill="#fff" stroke="#000" stroke-width="0.9"/>
<rect x="505.70" y="91.10" width="2.60" height="2.60" fill="#fff" stroke="#000" stroke-width="0.9"/>
<rect x="511.60" y="88.80" width="2.60" height="2.60" fill="#fff" stroke="#000" stroke-width="0.9"/>
<polyline points="476.40,88.20 482.80,81.30 488.90,81.60 495.00,84.00 501.00,86.80 507.00,89.20 512.90,90.10" fill="none" stroke="#000" stroke-width="1.2" stroke-linejoin="round"/>
<path d="M476.40 86.50L478.10 89.56L474.70 89.56Z" fill="#000"/>
<path d="M482.80 79.60L484.50 82.66L481.10 82.66Z" fill="#000"/>
<path d="M488.90 79.90L490.60 82.96L487.20 82.96Z" fill="#000"/>
<path d="M495.00 82.30L496.70 85.36L493.30 85.36Z" fill="#000"/>
<path d="M501.00 85.10L502.70 88.16L499.30 88.16Z" fill="#000"/>
<path d="M507.00 87.50L508.70 90.56L505.30 90.56Z" fill="#000"/>
<path d="M512.90 88.40L514.60 91.46L511.20 91.46Z" fill="#000"/>
<polyline points="476.40,51.30 482.80,56.30 488.90,63.20 495.00,67.80 501.00,81.30 507.00,84.50 512.90,90.10" fill="none" stroke="#000" stroke-width="1.3" stroke-linejoin="round"/>
<path d="M476.40 48.60L479.10 51.30L476.40 54.00L473.70 51.30Z" fill="#000"/>
<path d="M482.80 53.60L485.50 56.30L482.80 59.00L480.10 56.30Z" fill="#000"/>
<path d="M488.90 60.50L491.60 63.20L488.90 65.90L486.20 63.20Z" fill="#000"/>
<path d="M495.00 65.10L497.70 67.80L495.00 70.50L492.30 67.80Z" fill="#000"/>
<path d="M501.00 78.60L503.70 81.30L501.00 84.00L498.30 81.30Z" fill="#000"/>
<path d="M507.00 81.80L509.70 84.50L507.00 87.20L504.30 84.50Z" fill="#000"/>
<path d="M512.90 87.40L515.60 90.10L512.90 92.80L510.20 90.10Z" fill="#000"/>
<text transform="translate(480.40,97.10) rotate(-90)" font-size="8.75" text-anchor="end" font-weight="bold">100:1</text>
<text transform="translate(492.90,97.10) rotate(-90)" font-size="8.75" text-anchor="end" font-weight="bold">25:1</text>
<text transform="translate(505.00,97.10) rotate(-90)" font-size="8.75" text-anchor="end" font-weight="bold">6:1</text>
<text transform="translate(516.90,97.10) rotate(-90)" font-size="8.75" text-anchor="end" font-weight="bold">1:1</text>
<text x="0.00" y="12.00" font-size="15" text-anchor="start" font-weight="bold"  class="big">A)</text>
<text x="54.80" y="12.50" font-size="14" text-anchor="start" font-weight="bold"  class="big">C3H.SW anti-C57BL/6</text>
<text x="221.80" y="11.60" font-size="14" text-anchor="start" font-weight="bold"  class="big">C3H.SW anti-LP</text>
<text x="374.30" y="11.40" font-size="14" text-anchor="start" font-weight="bold"  class="big">C3H.SW anti-D1.LP</text>
<text transform="translate(22.30,24.80) rotate(-90)" font-size="7.7" text-anchor="end" font-weight="bold">% SPECIFIC LYSIS</text>
<text x="0.00" y="149.20" font-size="14.5" text-anchor="start" font-weight="bold"  class="big">B)</text>
<text class="big" transform="translate(61.5,168.5) scale(1.12,1)" font-size="14" font-weight="bold">LP anti-C57BL/6</text>
<text transform="translate(19.70,162.80) rotate(-90)" font-size="7.7" text-anchor="end" font-weight="bold">% SPECIFIC LYSIS</text>
<line x1="41.80" y1="155.20" x2="41.80" y2="245.90" stroke="#222" stroke-width="1.0"/>
<line x1="40.30" y1="245.90" x2="41.80" y2="245.90" stroke="#333" stroke-width="0.9"/>
<line x1="40.30" y1="236.83" x2="41.80" y2="236.83" stroke="#333" stroke-width="0.9"/>
<line x1="40.30" y1="227.76" x2="41.80" y2="227.76" stroke="#333" stroke-width="0.9"/>
<line x1="40.30" y1="218.69" x2="41.80" y2="218.69" stroke="#333" stroke-width="0.9"/>
<line x1="40.30" y1="209.62" x2="41.80" y2="209.62" stroke="#333" stroke-width="0.9"/>
<line x1="40.30" y1="200.55" x2="41.80" y2="200.55" stroke="#333" stroke-width="0.9"/>
<line x1="40.30" y1="191.48" x2="41.80" y2="191.48" stroke="#333" stroke-width="0.9"/>
<line x1="40.30" y1="182.41" x2="41.80" y2="182.41" stroke="#333" stroke-width="0.9"/>
<line x1="40.30" y1="173.34" x2="41.80" y2="173.34" stroke="#333" stroke-width="0.9"/>
<line x1="40.30" y1="164.27" x2="41.80" y2="164.27" stroke="#333" stroke-width="0.9"/>
<line x1="40.30" y1="155.20" x2="41.80" y2="155.20" stroke="#333" stroke-width="0.9"/>
<line x1="41.80" y1="245.90" x2="225.50" y2="245.90" stroke="#222" stroke-width="1.1"/>
<line x1="78.60" y1="245.90" x2="78.60" y2="247.40" stroke="#000" stroke-width="0.9"/>
<line x1="115.60" y1="245.90" x2="115.60" y2="247.40" stroke="#000" stroke-width="0.9"/>
<line x1="152.50" y1="245.90" x2="152.50" y2="247.40" stroke="#000" stroke-width="0.9"/>
<line x1="189.30" y1="245.90" x2="189.30" y2="247.40" stroke="#000" stroke-width="0.9"/>
<text transform="translate(31.1,158.70) scale(1.06,1)" font-size="8" font-weight="bold" text-anchor="middle">100</text>
<text transform="translate(31.1,176.80) scale(1.06,1)" font-size="8" font-weight="bold" text-anchor="middle">80</text>
<text transform="translate(31.1,195.70) scale(1.06,1)" font-size="8" font-weight="bold" text-anchor="middle">60</text>
<text transform="translate(31.1,212.80) scale(1.06,1)" font-size="8" font-weight="bold" text-anchor="middle">40</text>
<text transform="translate(31.1,231.10) scale(1.06,1)" font-size="8" font-weight="bold" text-anchor="middle">20</text>
<text transform="translate(31.1,249.20) scale(1.06,1)" font-size="8" font-weight="bold" text-anchor="middle">0</text>
<rect x="49.80" y="235.20" width="10.60" height="10.70" fill="#000" stroke="none" stroke-width="1"/>
<rect x="60.80" y="235.60" width="9.80" height="10.30" fill="#fff" stroke="#000" stroke-width="0.9"/>
<rect x="86.20" y="234.00" width="10.60" height="11.90" fill="#000" stroke="none" stroke-width="1"/>
<rect x="97.20" y="236.70" width="9.80" height="9.20" fill="#fff" stroke="#000" stroke-width="0.9"/>
<rect x="123.20" y="236.10" width="10.60" height="9.80" fill="#000" stroke="none" stroke-width="1"/>
<rect x="134.20" y="235.40" width="9.80" height="10.50" fill="#fff" stroke="#000" stroke-width="0.9"/>
<rect x="160.10" y="179.20" width="10.60" height="66.70" fill="#000" stroke="none" stroke-width="1"/>
<rect x="171.10" y="205.90" width="9.80" height="40.00" fill="#fff" stroke="#000" stroke-width="0.9"/>
<rect x="196.90" y="233.50" width="10.60" height="12.40" fill="#000" stroke="none" stroke-width="1"/>
<rect x="207.90" y="237.70" width="9.80" height="8.20" fill="#fff" stroke="#000" stroke-width="0.9"/>
<text x="54.00" y="256.2" font-size="8.5" font-weight="bold">10<tspan font-size="6" dy="-3">-8</tspan></text>
<text x="89.20" y="256.2" font-size="8.5" font-weight="bold">10<tspan font-size="6" dy="-3">-10</tspan></text>
<text x="126.70" y="256.2" font-size="8.5" font-weight="bold">10<tspan font-size="6" dy="-3">-12</tspan></text>
<text x="163.60" y="255.80" font-size="8.6" text-anchor="start" font-weight="bold" >B6</text>
<text x="202.30" y="255.80" font-size="8.6" text-anchor="start" font-weight="bold" >LP</text>
<line x1="46.50" y1="259.80" x2="147.00" y2="259.80" stroke="#000" stroke-width="1.3"/>
<text x="52.3" y="271.9" font-size="7.8" font-weight="bold">T2D<tspan font-size="5.2" dy="-1.6">b</tspan><tspan dy="1.6"> + AAPDNRETF (M)</tspan></text>
<text x="255.40" y="155.80" font-size="15.2" text-anchor="start" font-weight="bold"  class="big">C)</text>
<text class="big" transform="translate(374.7,167.6) scale(1.12,1)" font-size="14" font-weight="bold">SW10/B</text>
<text transform="translate(284.00,157.70) rotate(-90)" font-size="8.6" text-anchor="end" font-weight="bold">% SPECIFIC LYSIS</text>
<line x1="305.20" y1="155.90" x2="305.20" y2="245.00" stroke="#222" stroke-width="1.0"/>
<line x1="303.40" y1="245.00" x2="305.20" y2="245.00" stroke="#333" stroke-width="0.9"/>
<line x1="303.40" y1="233.86" x2="305.20" y2="233.86" stroke="#333" stroke-width="0.9"/>
<line x1="303.40" y1="222.72" x2="305.20" y2="222.72" stroke="#333" stroke-width="0.9"/>
<line x1="303.40" y1="211.59" x2="305.20" y2="211.59" stroke="#333" stroke-width="0.9"/>
<line x1="303.40" y1="200.45" x2="305.20" y2="200.45" stroke="#333" stroke-width="0.9"/>
<line x1="303.40" y1="189.31" x2="305.20" y2="189.31" stroke="#333" stroke-width="0.9"/>
<line x1="303.40" y1="178.18" x2="305.20" y2="178.18" stroke="#333" stroke-width="0.9"/>
<line x1="303.40" y1="167.04" x2="305.20" y2="167.04" stroke="#333" stroke-width="0.9"/>
<line x1="303.40" y1="155.90" x2="305.20" y2="155.90" stroke="#333" stroke-width="0.9"/>
<line x1="305.20" y1="245.00" x2="469.70" y2="245.00" stroke="#222" stroke-width="1.1"/>
<text x="295.60" y="158.80" font-size="8.0" text-anchor="middle" font-weight="bold" >80</text>
<text x="295.60" y="181.00" font-size="8.0" text-anchor="middle" font-weight="bold" >60</text>
<text x="295.60" y="203.50" font-size="8.0" text-anchor="middle" font-weight="bold" >40</text>
<text x="295.60" y="226.20" font-size="8.0" text-anchor="middle" font-weight="bold" >20</text>
<text x="296.20" y="248.70" font-size="8.0" text-anchor="middle" font-weight="bold" >0</text>
<rect x="322.90" y="165.40" width="23.20" height="79.60" fill="#000" stroke="none" stroke-width="1"/>
<rect x="346.50" y="183.50" width="22.20" height="61.50" fill="#fff" stroke="#000" stroke-width="0.9"/>
<rect x="404.60" y="232.60" width="23.20" height="12.40" fill="#000" stroke="none" stroke-width="1"/>
<rect x="428.20" y="237.60" width="22.60" height="7.40" fill="#fff" stroke="#000" stroke-width="0.9"/>
<text x="335.50" y="257.40" font-size="8.4" text-anchor="start" font-weight="bold" >129</text>
<text x="412.80" y="256.90" font-size="8.2" text-anchor="start" font-weight="bold" >C3H.SW</text>
<rect x="408.90" y="184.30" width="10.30" height="9.50" fill="#000" stroke="none" stroke-width="1"/>
<rect x="409.40" y="198.20" width="9.40" height="9.10" fill="#fff" stroke="#000" stroke-width="0.9"/>
<text x="423.30" y="191.70" font-size="7.9" text-anchor="start" font-weight="bold" >10:1 E:T ratio</text>
<text x="427.60" y="206.40" font-size="7.8" text-anchor="start" font-weight="bold" >5:1 E:T ratio</text>
<text x="0.00" y="326.60" font-size="14.8" text-anchor="start" font-weight="bold"  class="big">D)</text>
<text x="60.30" y="328.00" font-size="7.8" text-anchor="start" font-weight="bold" >EFFECTOR</text>
<text x="215.30" y="328.00" font-size="7.8" text-anchor="start" font-weight="bold" >% SPECIFIC LYSIS</text>
<line x1="47.70" y1="330.50" x2="356.30" y2="330.50" stroke="#1a1a1a" stroke-width="1.2"/>
<text x="193.60" y="340.20" font-size="7.8" text-anchor="start" font-weight="bold" >C3H.SW cells</text>
<text x="320.50" y="340.30" font-size="7.8" text-anchor="start" font-weight="bold" >129 cells</text>
<line x1="133.20" y1="341.40" x2="306.90" y2="341.40" stroke="#1a1a1a" stroke-width="1.2"/>
<line x1="313.10" y1="341.40" x2="356.30" y2="341.40" stroke="#1a1a1a" stroke-width="1.2"/>
<text x="133.80" y="351.90" font-size="7.8" text-anchor="start" font-weight="bold" >+ AAPDNRETF</text>
<text x="193.60" y="351.90" font-size="7.8" text-anchor="start" font-weight="bold" >+ YSNENMDAM</text>
<text x="261.90" y="351.00" font-size="7.8" text-anchor="start" font-weight="bold" >No peptide</text>
<line x1="133.20" y1="354.10" x2="188.70" y2="354.10" stroke="#1a1a1a" stroke-width="1.2"/>
<line x1="193.00" y1="354.10" x2="255.60" y2="354.10" stroke="#1a1a1a" stroke-width="1.2"/>
<line x1="261.00" y1="354.10" x2="306.30" y2="354.10" stroke="#1a1a1a" stroke-width="1.2"/>
<text x="49.60" y="363.60" font-size="7.9" text-anchor="start" font-weight="bold" >C3H.SW ANTI-129</text>
<text x="156.40" y="364.00" font-size="7.9" text-anchor="start" font-weight="bold" >17</text>
<text x="216.50" y="364.00" font-size="7.9" text-anchor="start" font-weight="bold" >16</text>
<text x="277.90" y="364.00" font-size="7.9" text-anchor="start" font-weight="bold" >11</text>
<text x="333.80" y="364.00" font-size="7.9" text-anchor="start" font-weight="bold" >75</text>
</svg>
</body></html>
